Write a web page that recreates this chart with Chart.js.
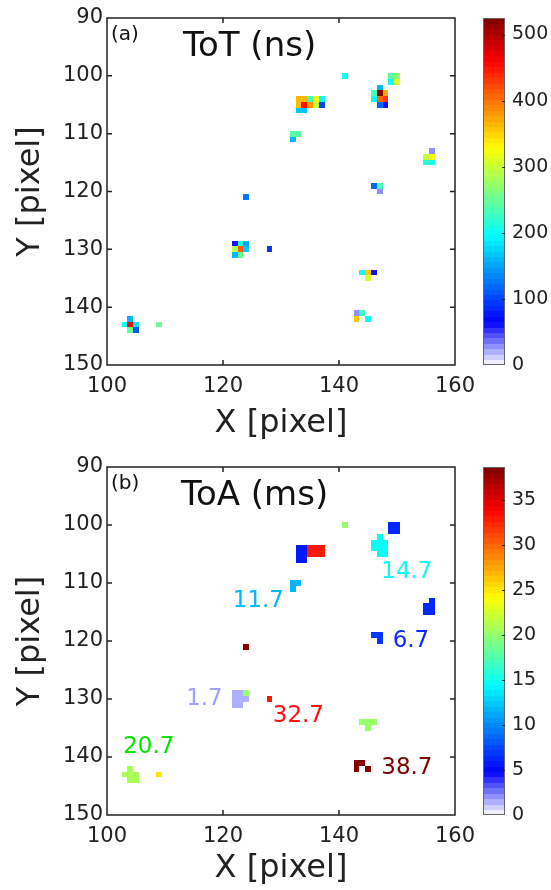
<!DOCTYPE html>
<html>
<head>
<meta charset="utf-8">
<script src="https://cdn.jsdelivr.net/npm/chart.js@4.4.1/dist/chart.umd.min.js"></script>
<style>
  html, body { margin: 0; padding: 0; background: #fff; }
  canvas { display: block; }
</style>
</head>
<body>
<canvas id="tot" width="551" height="445"></canvas>
<canvas id="toa" width="551" height="445"></canvas>
<script>
// hit pixels, same cells in both panels
const pixX = [141, 149, 150, 149, 150, 147, 146, 147, 148, 146, 147, 148, 147, 148,
  133, 134, 135, 136, 137, 133, 134, 135, 136, 137, 133, 134,
  132, 133, 132, 156, 155, 156, 155, 156, 146, 147, 147, 124,
  122, 123, 124, 122, 123, 124, 122, 123, 128,
  144, 145, 146, 145, 143, 144, 143, 145,
  104, 103, 104, 105, 104, 105, 109];
const pixY = [100, 100, 100, 101, 101, 102, 103, 103, 103, 104, 104, 104, 105, 105,
  104, 104, 104, 104, 104, 105, 105, 105, 105, 105, 106, 106,
  110, 110, 111, 113, 114, 114, 115, 115, 119, 119, 120, 121,
  129, 129, 129, 130, 130, 130, 131, 131, 130,
  134, 134, 134, 135, 141, 141, 142, 142,
  142, 143, 143, 143, 144, 144, 143];
const totNs = [200, 240, 270, 200, 305, 157, 230, 525, 370, 200, 407, 433, 118, 60,
  361, 361, 230, 328, 197, 361, 459, 380, 302, 105, 171, 171,
  245, 245, 160, 30, 300, 328, 220, 210, 118, 230, 25, 125,
  60, 220, 150, 295, 415, 165, 160, 250, 95,
  200, 360, 62, 305, 30, 225, 360, 200,
  160, 200, 459, 185, 250, 110, 250];
const toaMs = [20.2, 6.2, 6.2, 6.2, 6.2, 14.7, 14.7, 14.7, 14.7, 14.7, 14.7, 14.7, 14.7, 14.7,
  5.7, 5.7, 33.2, 33.2, 33.2, 5.7, 5.7, 33.2, 33.2, 33.2, 5.7, 5.7,
  11.7, 11.7, 11.7, 6.2, 6.2, 6.2, 6.2, 6.2, 6.7, 6.7, 6.7, 38.7,
  1.7, 1.7, 20.2, 1.7, 1.7, 1.7, 1.7, 1.7, 32.7,
  20.2, 20.2, 20.2, 20.2, 38.7, 38.7, 38.7, 38.7,
  20.7, 20.7, 20.7, 20.7, 20.7, 20.7, 25];

const totTicks = [0, 100, 200, 300, 400, 500];
const toaTicks = [0, 5, 10, 15, 20, 25, 30, 35];

const annoText = ['14.7', '11.7', '6.7', '1.7', '32.7', '20.7', '38.7'];
const annoX = [151.7, 126.1, 152.4, 116.8, 133, 107.2, 151.7];
const annoY = [108.1, 113.1, 120, 130, 133, 138.2, 141.9];
const annoColor = ['#10f8f8', '#00b8ff', '#0a28ff', '#a0a0ff', '#ff1010', '#00e600', '#800000'];

const FONT = "'DejaVu Sans', Verdana, sans-serif";
const INK = '#222';

function clamp01(v) { return Math.max(0, Math.min(1, v)); }

// jet with the lowest eighth faded to white, 64 levels
function jetColor(v, max) {
  const level = Math.min(63, Math.max(0, Math.floor(v / max * 64)));
  const t = (level + 0.5) / 64;
  let r, g, b;
  if (t < 0.125) {
    const f = t / 0.125;
    r = 1 - f; g = 1 - f; b = 1;
  } else {
    r = clamp01(1.5 - Math.abs(4 * t - 3));
    g = clamp01(1.5 - Math.abs(4 * t - 2));
    b = clamp01(1.5 - Math.abs(4 * t - 1));
  }
  return `rgb(${Math.round(r * 255)},${Math.round(g * 255)},${Math.round(b * 255)})`;
}

const heatPlugin = {
  id: 'heat',
  beforeDatasetsDraw(chart, args, opts) {
    const {ctx, scales: {x, y}} = chart;
    ctx.save();
    chart.data.datasets[0].data.forEach(p => {
      const x0 = Math.round(x.getPixelForValue(p.x - 0.5));
      const x1 = Math.round(x.getPixelForValue(p.x + 0.5));
      const y0 = Math.round(y.getPixelForValue(p.y - 0.5));
      const y1 = Math.round(y.getPixelForValue(p.y + 0.5));
      ctx.fillStyle = jetColor(p.v, opts.max);
      ctx.fillRect(Math.min(x0, x1), Math.min(y0, y1), Math.abs(x1 - x0), Math.abs(y1 - y0));
    });
    ctx.restore();
  },
  afterDatasetsDraw(chart, args, opts) {
    const {ctx, chartArea: a, scales: {x, y, cb}} = chart;
    ctx.save();
    // frame with inward ticks
    ctx.strokeStyle = INK;
    ctx.lineWidth = 1.5;
    ctx.strokeRect(a.left, a.top, a.right - a.left, a.bottom - a.top);
    ctx.beginPath();
    x.ticks.forEach(t => {
      if (t.value <= x.min || t.value >= x.max) return;
      const px = x.getPixelForValue(t.value);
      ctx.moveTo(px, a.top); ctx.lineTo(px, a.top + 5);
      ctx.moveTo(px, a.bottom); ctx.lineTo(px, a.bottom - 5);
    });
    y.ticks.forEach(t => {
      if (t.value <= y.min || t.value >= y.max) return;
      const py = y.getPixelForValue(t.value);
      ctx.moveTo(a.left, py); ctx.lineTo(a.left + 5, py);
      ctx.moveTo(a.right, py); ctx.lineTo(a.right - 5, py);
    });
    ctx.stroke();

    // colour bar
    const bx0 = cb.left + 28, bx1 = cb.left + 50;
    for (let i = 0; i < 64; i++) {
      const v0 = cb.max * i / 64, v1 = cb.max * (i + 1) / 64;
      const p0 = cb.getPixelForValue(v0), p1 = cb.getPixelForValue(v1);
      ctx.fillStyle = jetColor((v0 + v1) / 2, cb.max);
      ctx.fillRect(bx0, Math.floor(p1), bx1 - bx0, Math.ceil(p0) - Math.floor(p1));
    }
    ctx.strokeStyle = '#666';
    ctx.lineWidth = 1;
    ctx.strokeRect(bx0 + 0.5, cb.top + 0.5, bx1 - bx0 - 1, cb.bottom - cb.top - 1);
    ctx.strokeStyle = INK;
    ctx.beginPath();
    cb.ticks.forEach(t => {
      if (t.value <= 0) return;
      const py = Math.round(cb.getPixelForValue(t.value)) + 0.5;
      ctx.moveTo(bx1 - 3, py); ctx.lineTo(bx1, py);
    });
    ctx.stroke();

    // panel texts
    ctx.fillStyle = '#111';
    ctx.textAlign = 'left';
    ctx.textBaseline = 'alphabetic';
    ctx.font = `20px ${FONT}`;
    ctx.fillText(opts.tag, a.left + 4, a.top + 22);
    ctx.font = `34px ${FONT}`;
    ctx.fillText(opts.title, a.left + opts.titleDx, a.top + 38);

    if (opts.notes) {
      ctx.font = `23px ${FONT}`;
      ctx.textAlign = 'center';
      ctx.textBaseline = 'middle';
      annoText.forEach((s, i) => {
        ctx.fillStyle = annoColor[i];
        ctx.fillText(s, x.getPixelForValue(annoX[i]), y.getPixelForValue(annoY[i]));
      });
    }
    ctx.restore();
  }
};

function makePanel(id, values, vmax, cbTicks, tag, title, titleDx, notes, topPad, xHeight) {
  const points = pixX.map((px, i) => ({x: px, y: pixY[i], v: values[i]}));
  const tickFont = {family: FONT, size: 21};
  return new Chart(document.getElementById(id), {
    type: 'scatter',
    data: {datasets: [{data: points, pointRadius: 0, pointHoverRadius: 0}]},
    options: {
      responsive: false,
      animation: false,
      events: [],
      layout: {padding: {top: topPad, left: 0, right: 0, bottom: 0}},
      plugins: {
        legend: {display: false},
        tooltip: {enabled: false},
        heat: {max: vmax, tag: tag, title: title, titleDx: titleDx, notes: notes}
      },
      scales: {
        x: {
          type: 'linear', min: 100, max: 160,
          ticks: {stepSize: 20, color: INK, font: tickFont, padding: 9},
          grid: {display: false, drawTicks: false},
          border: {display: false},
          title: {display: true, text: 'X [pixel]', color: INK, font: {family: FONT, size: 32}, padding: {top: 0, bottom: 2}},
          afterFit: s => { s.height = xHeight; }
        },
        y: {
          type: 'linear', reverse: true, min: 90, max: 150,
          ticks: {stepSize: 10, color: INK, font: tickFont, padding: 4},
          grid: {display: false, drawTicks: false},
          border: {display: false},
          title: {display: true, text: 'Y [pixel]', color: INK, font: {family: FONT, size: 32}, padding: {top: 11, bottom: 0}},
          afterFit: s => { s.width = 107; }
        },
        cb: {
          type: 'linear', position: 'right', min: 0, max: vmax,
          ticks: {color: INK, font: {family: FONT, size: 19}, padding: 3},
          grid: {display: false, drawTicks: true, tickLength: 54},
          border: {display: false},
          afterBuildTicks: s => { s.ticks = cbTicks.map(v => ({value: v})); },
          afterFit: s => { s.width = 96; }
        }
      }
    },
    plugins: [heatPlugin]
  });
}

makePanel('tot', totNs, 525, totTicks, '(a)', 'ToT (ns)', 76, false, 18, 80);
makePanel('toa', toaMs, 38.7, toaTicks, '(b)', 'ToA (ms)', 74, true, 22, 75);
</script>
</body>
</html>
